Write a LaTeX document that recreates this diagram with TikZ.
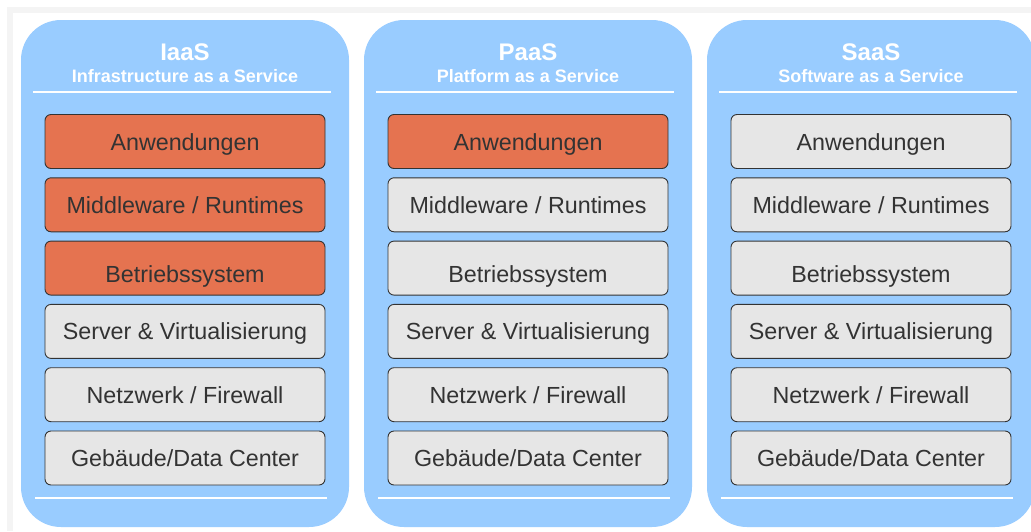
\documentclass[tikz,border=0pt]{standalone}
\usepackage{fontspec}
\setmainfont{Liberation Sans}
\usepackage{tikz}
\usetikzlibrary{positioning}
\definecolor{panel}{RGB}{153,204,255}
\definecolor{own}{RGB}{229,115,80}
\definecolor{prov}{RGB}{230,230,230}
\definecolor{ink}{RGB}{51,51,51}
\definecolor{frame}{RGB}{244,244,244}
\tikzset{
  panelbox/.style={fill=panel,draw=none,rounded corners=40pt},
  layer/.style={draw=ink,rounded corners=6pt,line width=0.9pt,minimum width=280pt,
    minimum height=54pt,inner sep=0pt,text height=22pt,text depth=5pt,text=ink,
    font=\fontsize{23.3}{25}\selectfont},
  own/.style={layer,fill=own},
  prov/.style={layer,fill=prov},
  ttl/.style={text=white,inner sep=0pt,font=\bfseries\fontsize{24}{26}\selectfont},
  sub/.style={text=white,inner sep=0pt,font=\bfseries\fontsize{18}{20}\selectfont},
  sep/.style={white,line width=1.3pt},
}
\begin{document}
\begin{tikzpicture}[x=1pt,y=-1pt]
  \useasboundingbox (0,0) rectangle (1031,531);
  \fill[white] (0,0) rectangle (1031,531);
  % light frame round the page
  \draw[frame,line width=6pt] (10,531) -- (10,10) -- (1031,10);
  % three service models
  \foreach \col/\c/\short/\full/\k in {iaas/185/IaaS/Infrastructure as a Service/3,
      paas/528/PaaS/Platform as a Service/1, saas/871/SaaS/Software as a Service/0}{
    \fill[panelbox] (\c-164,20) rectangle (\c+164,527);
    \node[ttl] (\col-t) at (\c,52) {\short};
    \node[sub,below=9pt of \col-t] (\col-s) {\full};
    \draw[sep] (\c-152,92) -- (\c+146,92);
    \draw[sep] (\c-150,498) -- (\c+142,498);
    \foreach \i/\txt in {0/Anwendungen, 1/{Middleware / Runtimes},
        2/{\raisebox{-6pt}{Betriebssystem}}, 3/{Server \& Virtualisierung},
        4/{Netzwerk / Firewall}, 5/{Gebäude/Data Center}}{
      \ifnum\i<\k \def\sty{own}\else \def\sty{prov}\fi
      \node[\sty] (\col-\i) at (\c,141.5+63.3*\i) {\txt};
    }
  }
\end{tikzpicture}
\end{document}
